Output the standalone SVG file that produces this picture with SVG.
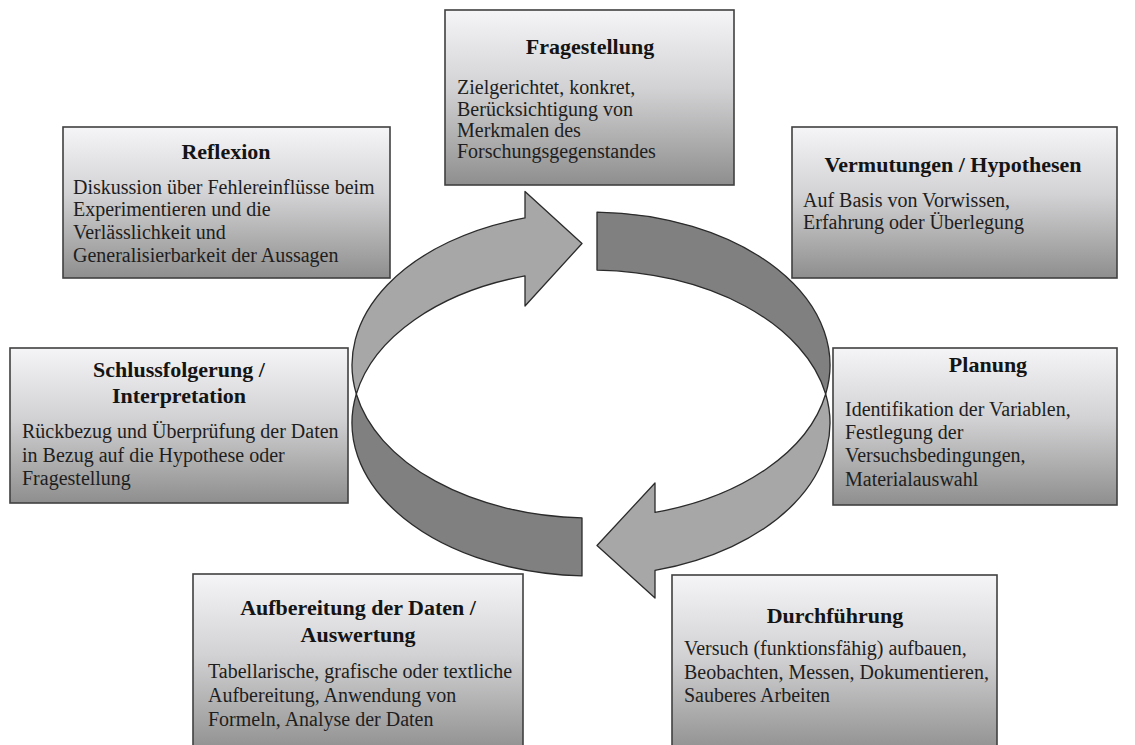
<svg xmlns="http://www.w3.org/2000/svg" width="1135" height="745" viewBox="0 0 1135 745">
  <defs>
    <linearGradient id="boxFill" x1="0" y1="0" x2="0" y2="1">
      <stop offset="0" stop-color="#f5f5f8"/>
      <stop offset="0.45" stop-color="#d2d2d4"/>
      <stop offset="1" stop-color="#8e8e8e"/>
    </linearGradient>
  </defs>
  <style>
    .box { fill: url(#boxFill); stroke: #404040; stroke-width: 1.6; }
    .title { font-family: "Liberation Serif", "Times New Roman", serif; font-size: 22px; font-weight: bold; fill: #141414; text-anchor: middle; }
    .body { font-family: "Liberation Serif", "Times New Roman", serif; font-size: 20px; fill: #1e1e1e; }
    .band-light { fill: #a7a7a7; stroke: #2b2b2b; stroke-width: 1.3; stroke-linejoin: round; }
    .band-dark { fill: #808080; stroke: #2b2b2b; stroke-width: 1.3; stroke-linejoin: round; }
  </style>
  <rect width="1135" height="745" fill="#ffffff"/>

  <!-- cycle: two curved ribbon arrows (upper ellipse c=(591,365), lower ellipse c=(591,423), rx 239, ry 153) -->
  <g id="connectors">
    <g id="arrow-left">
      <path class="band-dark" d="M 356.33,394 A 239 153 0 0 0 582,517.9 L 582,575.9 A 239 153 0 0 1 356.33,394 Z"/>
      <path class="band-light" d="M 525,217.95 A 239 153 0 0 0 356.33,394 A 239 153 0 0 1 525,275.95 L 525,306 L 582,243.5 L 525,191.5 Z"/>
    </g>
    <g id="arrow-right">
      <path class="band-dark" d="M 597,212.05 L 597,270.05 A 239 153 0 0 1 825.67,394 A 239 153 0 0 0 597,212.05 Z"/>
      <path class="band-light" d="M 825.67,394 A 239 153 0 0 1 655,512.4 L 655,483 L 597,545.5 L 655,598 L 655,570.4 A 239 153 0 0 0 825.67,394 Z"/>
    </g>
  </g>

  <g id="fragestellung">
    <rect class="box" x="445" y="10" width="289" height="175"/>
    <text class="title" x="590" y="54">Fragestellung</text>
    <text class="body" x="457" y="94">Zielgerichtet, konkret,</text>
    <text class="body" x="457" y="116">Berücksichtigung von</text>
    <text class="body" x="457" y="137">Merkmalen des</text>
    <text class="body" x="457" y="158">Forschungsgegenstandes</text>
  </g>

  <g id="reflexion">
    <rect class="box" x="63" y="127" width="327" height="151"/>
    <text class="title" x="226" y="159">Reflexion</text>
    <text class="body" x="73" y="194">Diskussion über Fehlereinflüsse beim</text>
    <text class="body" x="73" y="216">Experimentieren und die</text>
    <text class="body" x="73" y="239">Verlässlichkeit und</text>
    <text class="body" x="73" y="262">Generalisierbarkeit der Aussagen</text>
  </g>

  <g id="vermutungen">
    <rect class="box" x="792" y="127" width="325" height="151"/>
    <text class="title" x="953" y="172">Vermutungen / Hypothesen</text>
    <text class="body" x="803" y="207">Auf Basis von Vorwissen,</text>
    <text class="body" x="803" y="229">Erfahrung oder Überlegung</text>
  </g>

  <g id="schlussfolgerung">
    <rect class="box" x="10" y="348" width="338" height="155"/>
    <text class="title" x="179" y="377">Schlussfolgerung /</text>
    <text class="title" x="179" y="403">Interpretation</text>
    <text class="body" x="22" y="438">Rückbezug und Überprüfung der Daten</text>
    <text class="body" x="22" y="462">in Bezug auf die Hypothese oder</text>
    <text class="body" x="22" y="485">Fragestellung</text>
  </g>

  <g id="planung">
    <rect class="box" x="833" y="348" width="284" height="157"/>
    <text class="title" x="988" y="372">Planung</text>
    <text class="body" x="845" y="416">Identifikation der Variablen,</text>
    <text class="body" x="845" y="439">Festlegung der</text>
    <text class="body" x="845" y="462">Versuchsbedingungen,</text>
    <text class="body" x="845" y="486">Materialauswahl</text>
  </g>

  <g id="aufbereitung">
    <rect class="box" x="193" y="574" width="330" height="180"/>
    <text class="title" x="358" y="615">Aufbereitung der Daten /</text>
    <text class="title" x="358" y="642">Auswertung</text>
    <text class="body" x="208" y="678">Tabellarische, grafische oder textliche</text>
    <text class="body" x="208" y="702">Aufbereitung, Anwendung von</text>
    <text class="body" x="208" y="726">Formeln, Analyse der Daten</text>
  </g>

  <g id="durchfuehrung">
    <rect class="box" x="672" y="575" width="325" height="180"/>
    <text class="title" x="835" y="623">Durchführung</text>
    <text class="body" x="684" y="655">Versuch (funktionsfähig) aufbauen,</text>
    <text class="body" x="684" y="679">Beobachten, Messen, Dokumentieren,</text>
    <text class="body" x="684" y="702">Sauberes Arbeiten</text>
  </g>
</svg>
